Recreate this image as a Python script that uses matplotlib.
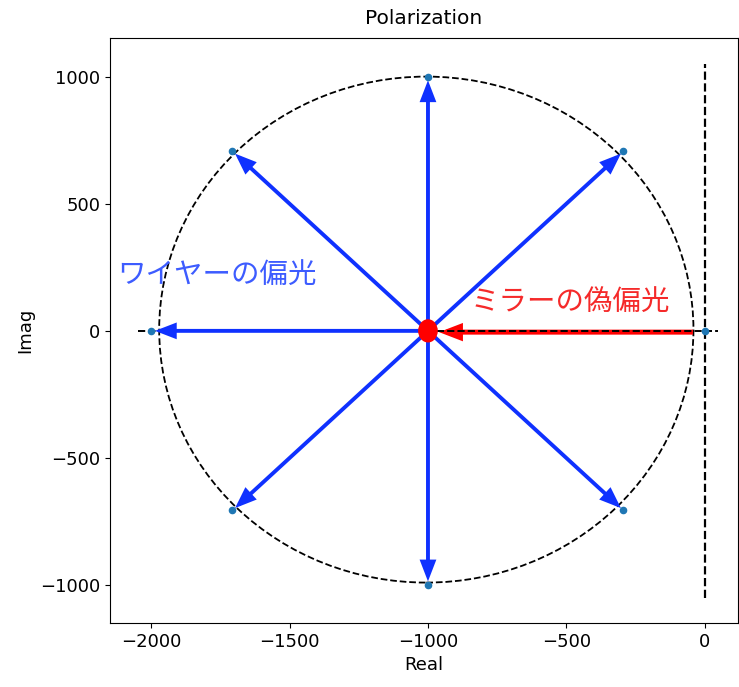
import matplotlib
matplotlib.use("Agg")
import matplotlib.pyplot as plt
from matplotlib.patches import Ellipse

plt.rcParams['font.family'] = ['DejaVu Sans']

# ---- data ----
center = (-1000, 0)
pts_x = [0, -293, -1000, -1707, -2000, -1707, -1000, -293]
pts_y = [0, 707, 1000, 707, 0, -707, -1000, -707]
wire_idx = [1, 2, 3, 4, 5, 6, 7]          # blue arrows (wire polarization)
mirror_start = (-42, -5)                  # red arrow (mirror fake polarization)
mirror_end = (-960, -5)
hline_x = [-2050, 50]
hline_y = [0, 0]
vline_x = [0, 0]
vline_y = [-1050, 1050]
label_wire = "ワイヤーの偏光"
label_mirror = "ミラーの偽偏光"

BLUE = '#0f31ff'
HEAD = '-|>,head_length=0.65,head_width=0.25'
fig = plt.figure(figsize=(7.39, 6.87), dpi=100)
ax = fig.add_axes([0.1488, 0.0932, 0.8498, 0.8515])

ax.add_patch(Ellipse((-1006, 5), 1932, 1992, fill=False, ls='--', lw=1.3,
                     color='black', zorder=2))
ax.plot(hline_x, hline_y, '--', color='black', lw=1.4, zorder=3)
ax.plot(vline_x, vline_y, '--', color='black', lw=1.6, zorder=3)

ax.annotate('', xy=mirror_end, xytext=mirror_start,
            arrowprops=dict(arrowstyle=HEAD, color='red', lw=3.6,
                            mutation_scale=16, shrinkA=0, shrinkB=0,
                            joinstyle='miter', capstyle='butt'),
            zorder=2.5)

for i in wire_idx:
    ax.annotate('', xy=(pts_x[i], pts_y[i]), xytext=center,
                arrowprops=dict(arrowstyle=HEAD, color=BLUE, lw=2.8,
                                mutation_scale=16, shrinkA=0, shrinkB=2.5,
                                joinstyle='miter', capstyle='butt'),
                zorder=4)

ax.scatter(pts_x, pts_y, s=20, color='tab:blue', zorder=5)
ax.add_patch(Ellipse(center, 66, 86, color='red', zorder=6))

jp = ['Noto Sans CJK JP', 'DejaVu Sans']
ax.text(-2125, 222, label_wire, color='#3d5cff', fontsize=20.5, family=jp,
        va='center', ha='left', zorder=7)
ax.text(-845, 112, label_mirror, color='#f52a2a', fontsize=20.5, family=jp,
        va='center', ha='left', zorder=7)

ax.set_xlim(-2150, 121)
ax.set_ylim(-1150, 1153)
ax.set_xticks([-2000, -1500, -1000, -500, 0])
ax.set_yticks([-1000, -500, 0, 500, 1000])
ax.tick_params(labelsize=13)
ax.set_xlabel('Real', fontsize=13)
ax.set_ylabel('Imag', fontsize=13)
ax.set_title('Polarization', fontsize=14.5, pad=10)

fig.savefig('out.png', dpi=100)
